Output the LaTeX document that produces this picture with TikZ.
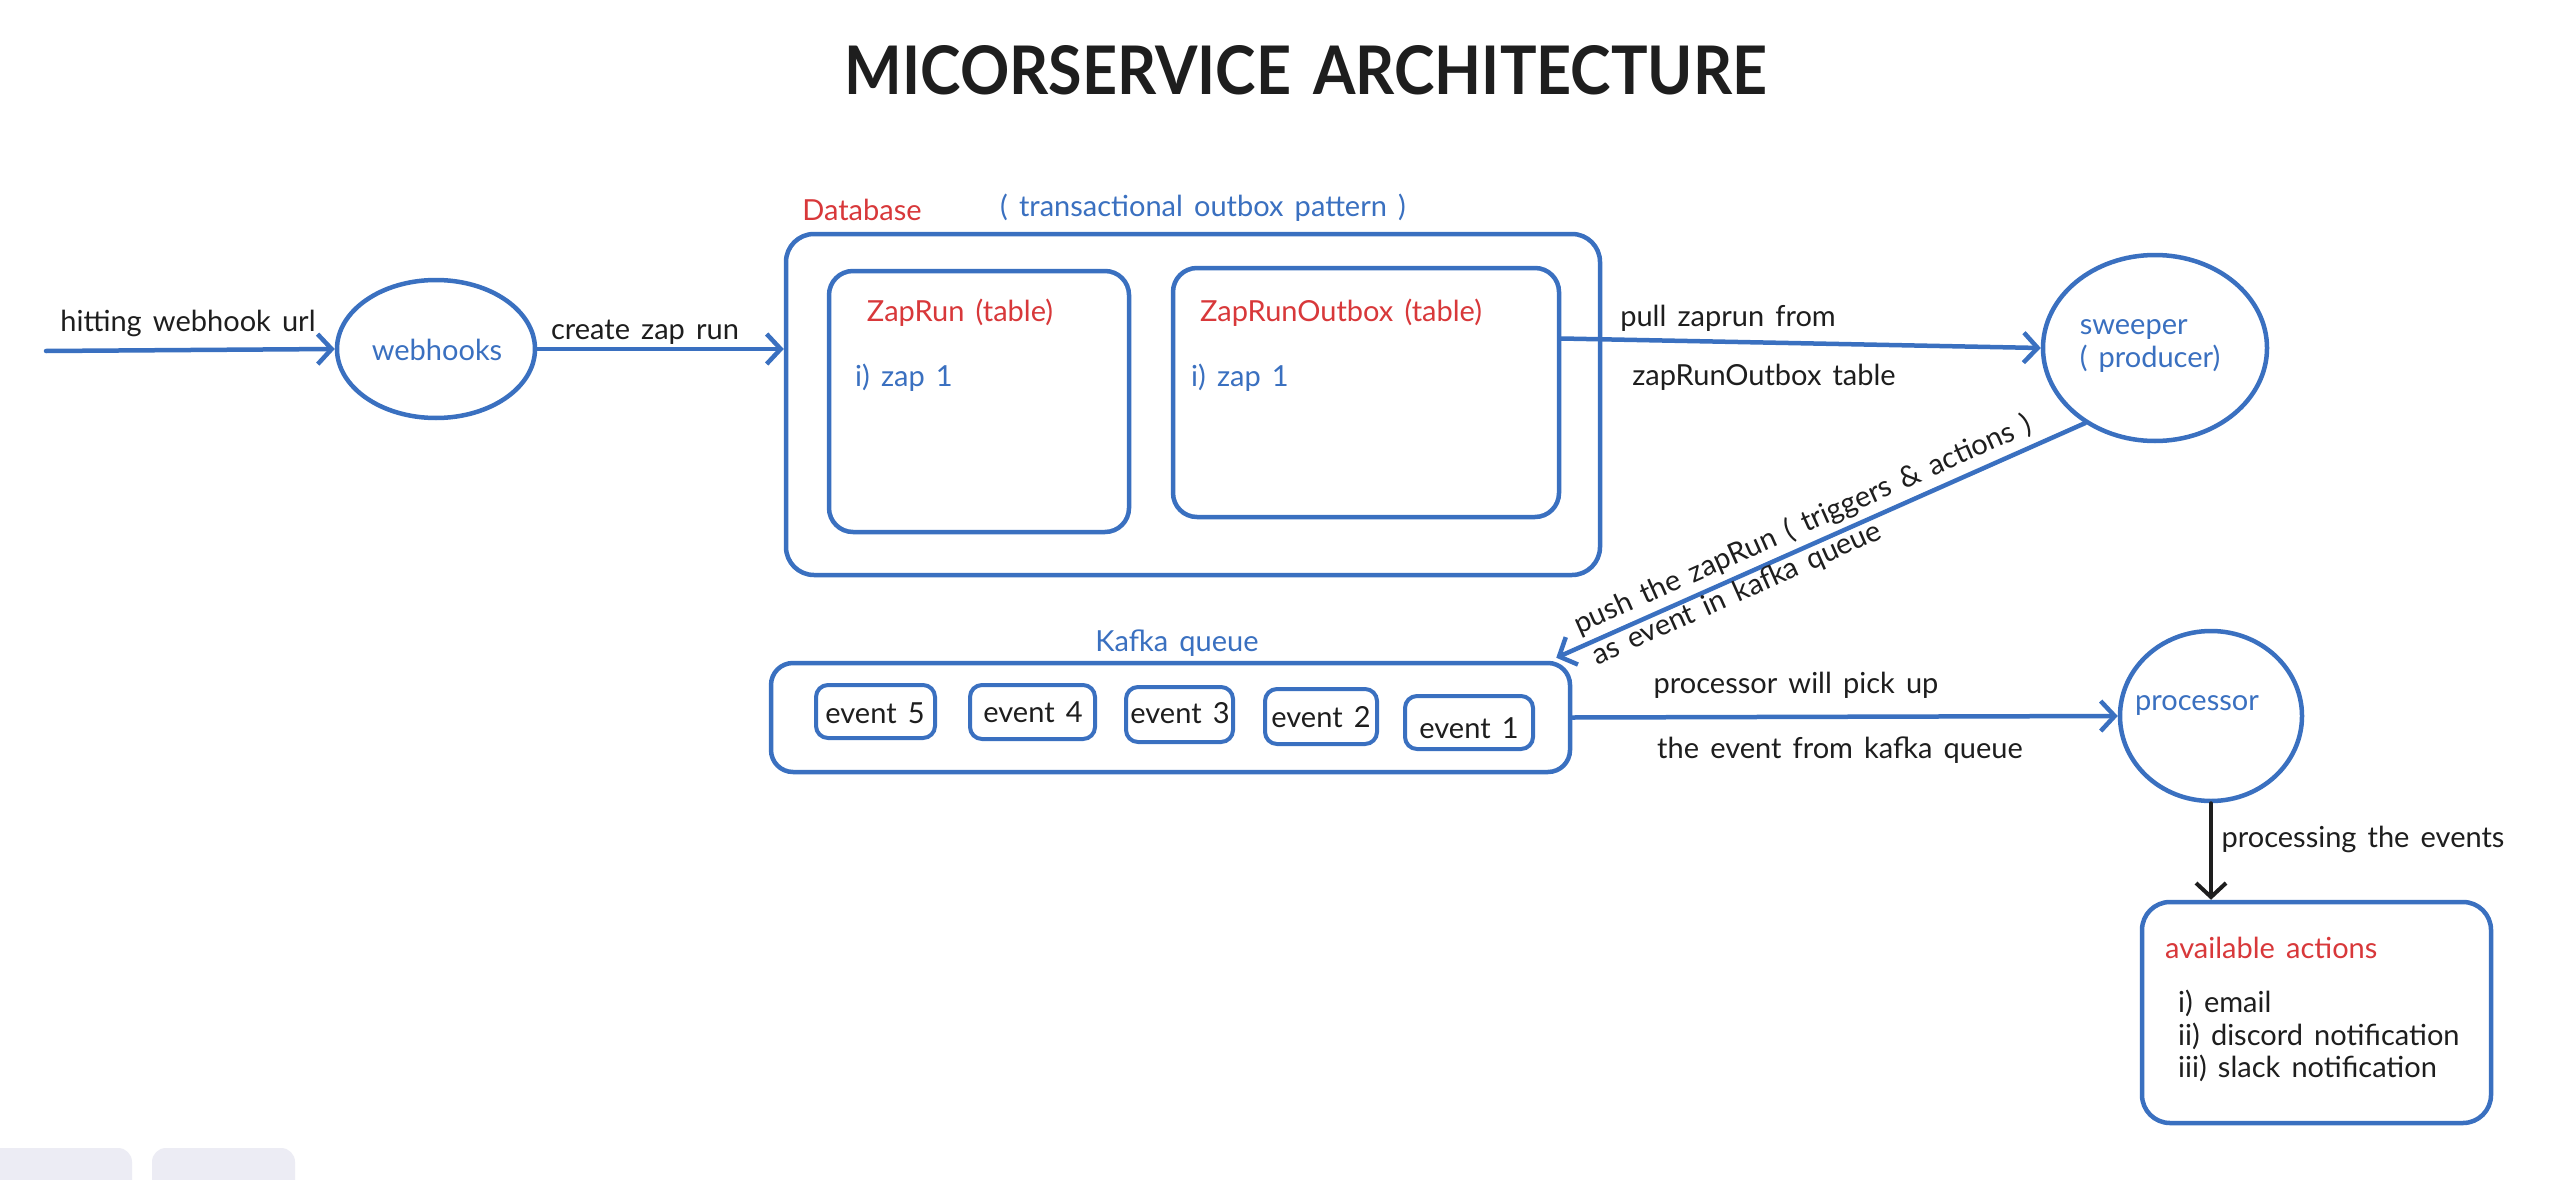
\documentclass[tikz,border=0pt]{standalone}
\usepackage{fontspec}
\usepackage{graphicx}
\setmainfont{Lato}[WordSpace=1.5]
\usetikzlibrary{arrows.meta,shapes.geometric}
\definecolor{exblue}{HTML}{3A70C0}
\definecolor{exred}{HTML}{D8383A}
\definecolor{exink}{HTML}{1E1E1E}
\definecolor{uigrey}{HTML}{ECECF4}
\begin{document}
\begin{tikzpicture}[x=1pt,y=-1pt,
  lbl/.style={font=\fontsize{29}{33}\selectfont, text=exink, inner sep=0pt},
  bluelbl/.style={lbl, text=exblue},
  redlbl/.style={lbl, text=exred},
  bubble/.style={draw=exblue, line width=4.5pt, ellipse, inner sep=0pt},
  rbox/.style={draw=exblue, line width=4.5pt, rounded corners=28pt, inner sep=0pt},
  evbox/.style={draw=exblue, line width=4pt, rounded corners=12pt, inner sep=0pt},
  flow/.style={draw=exblue, line width=4.5pt, line cap=round, -{Straight Barb[length=14pt,width=30pt]}},
  blackflow/.style={draw=exink, line width=4pt, line cap=round, -{Straight Barb[length=14pt,width=30pt]}},
  uibox/.style={fill=uigrey, rounded corners=14pt, draw=none},
]
\useasboundingbox[fill=white] (0,0) rectangle (2564,1180);

% title
\node[inner sep=0pt, text=exink] (title) at (1306,70) {\resizebox{922pt}{49pt}{\bfseries MICORSERVICE ARCHITECTURE}};

% webhooks
\coordinate (start) at (46,351);
\node[bubble, minimum width=198pt, minimum height=138pt] (webhooks) at (436,349) {};
\node[bluelbl] (webhooksT) at (437,350) {webhooks};
\node[lbl] (hitT) at (188,323) {hitting webhook url};
\draw[flow] (start) -- (webhooks.west);

% database
\node[rbox, minimum width=814pt, minimum height=341pt] (db) at (1193,404.5) {};
\node[redlbl] (dbT) at (862,210) {Database};
\node[bluelbl] (patternT) at (1203,208) {( transactional outbox pattern )};
\node[rbox, rounded corners=24pt, minimum width=300pt, minimum height=261pt] (zaprun) at (979,401.5) {};
\node[rbox, rounded corners=24pt, minimum width=386pt, minimum height=249pt] (outbox) at (1366,392.5) {};
\node[redlbl] (zaprunT) at (960,313) {ZapRun (table)};
\node[bluelbl, anchor=west] (zaprunI) at (855,378) {i) zap 1};
\node[redlbl] (outboxT) at (1341,313) {ZapRunOutbox (table)};
\node[bluelbl, anchor=west] (outboxI) at (1191,378) {i) zap 1};
\node[lbl] (createT) at (645,332) {create zap run};
\draw[flow] (webhooks.east) -- (webhooks.east -| db.west);

% sweeper
\node[bubble, minimum width=224pt, minimum height=186pt] (sweeper) at (2155,348) {};
\node[bluelbl, align=left] (sweeperT) at (2150,346) {sweeper\\( producer)};
\draw[flow] ([yshift=54pt]outbox.east) -- (sweeper.west);
\node[lbl] (pullT) at (1728,318) {pull zaprun from};
\node[lbl] (pullT2) at (1764,377) {zapRunOutbox table};

% kafka
\node[rbox, rounded corners=22pt, minimum width=799pt, minimum height=109pt] (kafka) at (1170.5,717.5) {};
\node[bluelbl] (kafkaT) at (1177,643) {Kafka queue};
\node[evbox, minimum width=119pt, minimum height=53pt] (e5) at (875.5,711.5) {};
\node[evbox, minimum width=125pt, minimum height=54pt] (e4) at (1032.5,712) {};
\node[evbox, minimum width=107pt, minimum height=55pt] (e3) at (1179.5,714.5) {};
\node[evbox, minimum width=112pt, minimum height=55pt] (e2) at (1321,716.5) {};
\node[evbox, minimum width=128pt, minimum height=53pt] (e1) at (1469,722.5) {};
\node[lbl] (e5T) at (875,713) {event 5};
\node[lbl] (e4T) at (1033,712) {event 4};
\node[lbl] (e3T) at (1180,713) {event 3};
\node[lbl] (e2T) at (1321,717) {event 2};
\node[lbl] (e1T) at (1469,728) {event 1};

\draw[flow] (sweeper.-133) -- ([shift={(-16pt,3pt)}]kafka.north east);
\node[lbl, rotate=24] (pushT) at (1803,525) {push the zapRun ( triggers \& actions )};
\node[lbl, rotate=24] (pushT2) at (1737,594) {as event in kafka queue};

% processor
\node[bubble, minimum width=182pt, minimum height=170pt] (processor) at (2211,716) {};
\node[bluelbl] (processorT) at (2197,706) {processor};
\draw[flow] (kafka.east) -- (processor.west);
\node[lbl] (pickT) at (1796,685) {processor will pick up};
\node[lbl] (pickT2) at (1840,750) {the event from kafka queue};

% actions
\node[rbox, minimum width=349pt, minimum height=221pt] (actions) at (2316.5,1012.5) {};
\node[redlbl, anchor=west] (actionsT) at (2165,948) {available actions};
\node[lbl, anchor=west] (a1) at (2178,1003) {i) email};
\node[lbl, anchor=west] (a2) at (2178,1036) {ii) discord notification};
\node[lbl, anchor=west] (a3) at (2178,1068) {iii) slack notification};
\draw[blackflow] (processor.south) -- (processor.south |- actions.north);
\node[lbl] (procEvT) at (2363,839) {processing the events};

% ui controls (cut off)
\begin{scope}
\clip (0,0) rectangle (2564,1180);
\fill[uibox] (-30,1148) rectangle (132,1210);
\fill[uibox] (152,1148) rectangle (295,1210);
\end{scope}
\end{tikzpicture}
\end{document}
